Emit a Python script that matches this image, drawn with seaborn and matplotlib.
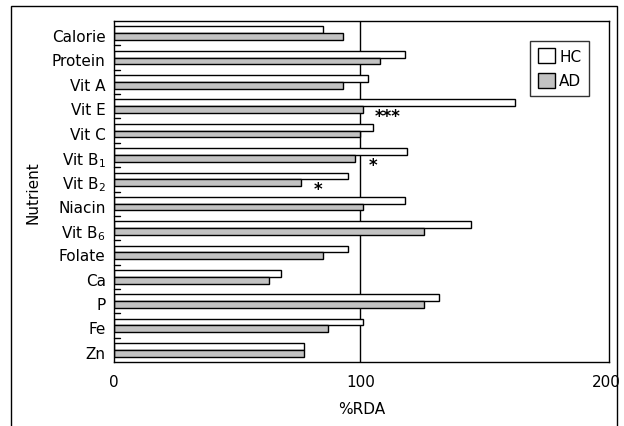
import matplotlib
matplotlib.use("Agg")
import matplotlib.pyplot as plt
import seaborn as sns
import pandas as pd
from matplotlib.patches import Patch, Rectangle

nutrients = ["Calorie", "Protein", "Vit A", "Vit E", "Vit C", r"Vit B$_1$", r"Vit B$_2$",
             "Niacin", r"Vit B$_6$", "Folate", "Ca", "P", "Fe", "Zn"]
hc = [85, 118, 103, 163, 105, 119, 95, 118, 145, 95, 68, 132, 101, 77]
ad = [93, 108, 93, 101, 100, 98, 76, 101, 126, 85, 63, 126, 87, 77]
groups = ["HC", "AD"]
xticks = [0, 100, 200]
# significance markers: (category, x position, text)
stars = [(r"Vit E", 111, "***"), (r"Vit B$_1$", 105, "*"), (r"Vit B$_2$", 83, "*")]

df = pd.DataFrame({
    "Nutrient": nutrients * 2,
    "%RDA": hc + ad,
    "Group": ["HC"] * len(hc) + ["AD"] * len(ad),
})

sns.set_style("white")
plt.rcParams["font.family"] = ["DejaVu Sans"]
plt.rcParams["text.color"] = "black"
plt.rcParams["axes.labelcolor"] = "black"
plt.rcParams["xtick.color"] = "black"
plt.rcParams["ytick.color"] = "black"

fig = plt.figure(figsize=(6.24, 4.27), dpi=100)
ax = fig.add_axes([114 / 624, 1 - 363 / 427, (609 - 114) / 624, (363 - 22) / 427])

colors = {"HC": "white", "AD": "#c2c2c2"}
sns.barplot(data=df, y="Nutrient", x="%RDA", hue="Group", order=nutrients, hue_order=groups,
            orient="h", palette=colors, width=0.56, edgecolor="black", linewidth=1.0,
            saturation=1, ax=ax, legend=False)

ax.set_xlim(0, 201)
ax.set_ylim(len(nutrients) - 0.5, -0.5)
ax.axvline(100, color="black", lw=1.0, zorder=0.5)

ax.set_xticks(xticks)
ax.set_xticklabels([str(t) for t in xticks], fontsize=11, color="black")
ax.tick_params(axis="x", length=0, pad=9)
ax.set_yticks([i + 0.08 for i in range(len(nutrients))])
ax.set_yticklabels(nutrients, fontsize=11, color="black")
ax.tick_params(axis="y", length=0, pad=6)
for i in range(len(nutrients) - 1):
    ax.plot([0, 2.5], [i + 0.5, i + 0.5], color="black", lw=1.0, clip_on=False)

ax.set_xlabel("%RDA", fontsize=11, labelpad=8, color="black")
ax.set_ylabel("Nutrient", fontsize=11, labelpad=8, color="black")

for s in ax.spines.values():
    s.set_visible(True)
    s.set_color("black")
    s.set_linewidth(1.0)

for cat, x, t in stars:
    i = nutrients.index(cat)
    ax.text(x, i + 0.4, t, ha="center", va="center", fontsize=12, fontweight="bold",
            color="black")

handles = [Patch(facecolor=colors[g], edgecolor="black", label=g) for g in groups]
leg = ax.legend(handles=handles, loc="upper right", bbox_to_anchor=(0.975, 0.965),
                fontsize=11, frameon=True, fancybox=False, edgecolor="black",
                handlelength=1.1, handleheight=1.1, handletextpad=0.3, borderpad=0.5,
                labelspacing=0.6)
leg.get_frame().set_linewidth(1.0)
for txt in leg.get_texts():
    txt.set_color("black")

fig.patches.append(Rectangle((11 / 624, -0.01), (617 - 11) / 624, 1 - 7 / 427 + 0.01,
                             transform=fig.transFigure, fill=False, edgecolor="black", lw=1.0))

fig.savefig("out.png", dpi=100)
